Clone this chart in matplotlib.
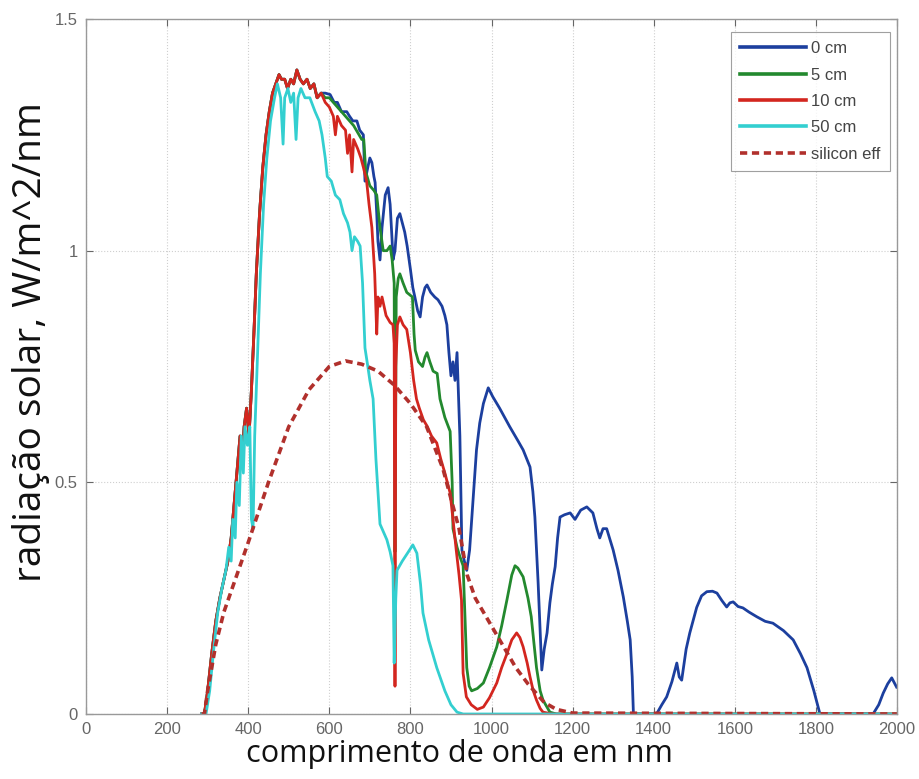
import numpy as np
import matplotlib
matplotlib.use("Agg")
import matplotlib.pyplot as plt

# ---------------- data ----------------
# shared rising part of the 0 / 5 / 10 cm spectra
common_wl = [285, 292, 300, 310, 320, 330, 340, 350, 358, 365, 372, 380, 385, 390, 396, 402, 408,
             414, 420, 428, 436, 444, 452, 460, 468, 476, 482, 490, 497, 505, 512, 520, 528,
             536, 545, 553, 562, 570, 580]
common_val = [0.0, 0.0, 0.05, 0.13, 0.2, 0.25, 0.29, 0.33, 0.38, 0.45, 0.52, 0.6, 0.55, 0.62, 0.66,
              0.6, 0.7, 0.82, 0.95, 1.08, 1.18, 1.25, 1.3, 1.34, 1.36, 1.38, 1.37, 1.37, 1.35, 1.37,
              1.36, 1.39, 1.37, 1.36, 1.37, 1.35, 1.36, 1.33, 1.34]

cm0_wl = [590, 602, 612, 620, 630, 643, 650, 658, 668, 675, 684, 688, 695, 700, 705, 710, 713, 717,
          720, 725, 730, 738, 745, 750, 755, 757, 762, 768, 774, 780, 786, 792, 800, 806, 811, 818,
          824, 830, 836, 841, 850, 860, 868, 878, 885, 890, 895, 900, 905, 910, 915, 918, 922, 925,
          927, 933, 939, 946, 955, 963, 971, 980, 992, 1003, 1020, 1045, 1065, 1078, 1095, 1102,
          1107, 1115, 1124, 1130, 1137, 1144, 1150, 1157, 1163, 1169, 1180, 1194, 1206, 1220, 1235,
          1250, 1260, 1267, 1275, 1284, 1300, 1312, 1325, 1335, 1342, 1347, 1350, 1407, 1420, 1432,
          1445, 1457, 1463, 1469, 1480, 1489, 1506, 1518, 1531, 1545, 1556, 1568, 1580, 1588, 1596,
          1608, 1620, 1635, 1654, 1675, 1694, 1720, 1744, 1762, 1778, 1795, 1810, 1941, 1955, 1966,
          1977, 1987, 1999]
cm0_val = [1.34, 1.337, 1.32, 1.32, 1.3, 1.3, 1.29, 1.28, 1.28, 1.26, 1.25, 1.15, 1.18, 1.2, 1.19,
           1.16, 1.147, 1.08, 1.02, 0.98, 1.05, 1.12, 1.136, 1.1, 1.02, 0.98, 1.0, 1.07, 1.08, 1.06,
           1.04, 1.01, 0.96, 0.92, 0.9, 0.87, 0.857, 0.9, 0.92, 0.926, 0.91, 0.9, 0.894, 0.88, 0.86,
           0.84, 0.78, 0.73, 0.76, 0.72, 0.78, 0.7, 0.6, 0.45, 0.354, 0.33, 0.31, 0.354, 0.47, 0.57,
           0.628, 0.67, 0.704, 0.685, 0.66, 0.62, 0.59, 0.57, 0.533, 0.48, 0.425, 0.283, 0.095, 0.14,
           0.175, 0.24, 0.28, 0.318, 0.38, 0.425, 0.43, 0.434, 0.42, 0.44, 0.447, 0.434, 0.4, 0.38,
           0.4, 0.4, 0.354, 0.31, 0.253, 0.2, 0.16, 0.08, 0.0, 0.0, 0.02, 0.037, 0.07, 0.11, 0.08,
           0.073, 0.14, 0.175, 0.23, 0.255, 0.264, 0.265, 0.261, 0.245, 0.231, 0.24, 0.242, 0.232,
           0.229, 0.22, 0.21, 0.2, 0.196, 0.18, 0.16, 0.13, 0.1, 0.05, 0.0, 0.0, 0.02, 0.045, 0.065,
           0.078, 0.058]

cm5_wl = [590, 600, 620, 640, 660, 680, 685, 690, 700, 710, 717, 725, 733, 742, 750, 755, 760, 762,
          765, 770, 774, 782, 791, 805, 809, 812, 820, 830, 836, 841, 848, 856, 866, 873, 885, 898,
          903, 905, 915, 922, 930, 935, 939, 945, 951, 965, 980, 995, 1013, 1025, 1038, 1050, 1058,
          1065, 1078, 1090, 1098, 1105, 1111, 1120, 1127, 1144, 1160, 2000]
cm5_val = [1.33, 1.33, 1.31, 1.29, 1.27, 1.24, 1.24, 1.17, 1.14, 1.13, 1.12, 1.05, 1.0, 1.0, 1.01,
           0.98, 0.93, 0.35, 0.9, 0.94, 0.95, 0.93, 0.91, 0.9, 0.82, 0.785, 0.76, 0.75, 0.77, 0.78,
           0.76, 0.74, 0.735, 0.68, 0.64, 0.61, 0.5, 0.4, 0.36, 0.34, 0.32, 0.2, 0.1, 0.06, 0.05,
           0.055, 0.067, 0.1, 0.145, 0.19, 0.246, 0.3, 0.32, 0.315, 0.296, 0.25, 0.21, 0.15, 0.1,
           0.05, 0.03, 0.004, 0.0, 0.0]

cm10_wl = [590, 600, 610, 615, 620, 630, 640, 645, 650, 656, 660, 670, 678, 684, 692, 698, 705, 712,
           717, 720, 725, 730, 740, 750, 757, 760, 762, 764, 768, 774, 782, 791, 800, 808, 815, 822,
           832, 842, 852, 865, 875, 885, 898, 905, 913, 920, 926, 930, 938, 950, 965, 980, 995, 1013,
           1025, 1038, 1050, 1062, 1070, 1078, 1088, 1095, 1103, 1111, 1120, 1127, 1150, 2000]
cm10_val = [1.32, 1.31, 1.29, 1.25, 1.29, 1.27, 1.26, 1.21, 1.25, 1.17, 1.24, 1.22, 1.2, 1.18, 1.15,
            1.1, 1.05, 0.95, 0.82, 0.9, 0.88, 0.9, 0.86, 0.845, 0.84, 0.8, 0.06, 0.75, 0.84, 0.857,
            0.84, 0.83, 0.78, 0.72, 0.68, 0.66, 0.635, 0.62, 0.6, 0.585, 0.55, 0.52, 0.477, 0.42,
            0.354, 0.3, 0.246, 0.088, 0.037, 0.02, 0.01, 0.015, 0.035, 0.067, 0.1, 0.13, 0.16, 0.175,
            0.165, 0.145, 0.11, 0.08, 0.05, 0.03, 0.012, 0.004, 0.0, 0.0]

cm50_wl = [285, 296, 305, 315, 325, 335, 345, 352, 358, 362, 368, 372, 378, 383, 388, 392, 398, 404,
           408, 412, 416, 422, 430, 438, 446, 455, 465, 472, 480, 486, 490, 498, 505, 512, 518, 523,
           530, 540, 552, 565, 575, 582, 590, 595, 605, 615, 626, 635, 645, 651, 656, 662, 670, 676,
           682, 688, 695, 700, 708, 715, 725, 735, 742, 750, 757, 760, 764, 767, 780, 795, 806, 816,
           825, 831, 845, 865, 885, 900, 915, 930, 2000]
cm50_val = [0.0, 0.0, 0.05, 0.14, 0.22, 0.27, 0.31, 0.36, 0.33, 0.42, 0.38, 0.5, 0.45, 0.6, 0.52,
            0.62, 0.58, 0.62, 0.42, 0.4, 0.6, 0.75, 0.95, 1.1, 1.2, 1.28, 1.33, 1.36, 1.33, 1.23,
            1.33, 1.35, 1.32, 1.34, 1.24, 1.33, 1.35, 1.33, 1.33, 1.3, 1.28, 1.25, 1.2, 1.16, 1.15,
            1.12, 1.11, 1.08, 1.06, 1.04, 1.0, 1.03, 1.02, 1.01, 0.93, 0.79, 0.75, 0.72, 0.68, 0.55,
            0.41, 0.39, 0.376, 0.35, 0.32, 0.11, 0.25, 0.31, 0.33, 0.35, 0.365, 0.347, 0.28, 0.218,
            0.16, 0.1, 0.05, 0.02, 0.004, 0.0, 0.0]

si_wl = [285, 292, 300, 320, 340, 360, 380, 400, 450, 500, 550, 600, 640, 680, 720, 760, 800, 840,
         880, 920, 940, 960, 1000, 1030, 1060, 1090, 1130, 1160, 1200, 2000]
si_val = [0.0, 0.0, 0.05, 0.15, 0.22, 0.27, 0.32, 0.37, 0.5, 0.62, 0.7, 0.75, 0.762, 0.755, 0.74,
          0.71, 0.67, 0.62, 0.53, 0.4, 0.3, 0.25, 0.19, 0.145, 0.1, 0.065, 0.025, 0.01, 0.002, 0.0]

labels = ["0 cm", "5 cm", "10 cm", "50 cm", "silicon eff"]
x_ticks = [0, 200, 400, 600, 800, 1000, 1200, 1400, 1600, 1800, 2000]
y_ticks = [0, 0.5, 1, 1.5]
y_ticklabels = ["0", "0.5", "1", "1.5"]
xlabel = "comprimento de onda em nm"
ylabel = "radiação solar, W/m^2/nm"

# ---------------- plot ----------------
fig = plt.figure(figsize=(9.2, 7.79), dpi=100)
ax = fig.add_axes([86 / 920, 1 - 714 / 779, (897 - 86) / 920, (714 - 19) / 779])

c_blue = "#1c3f9e"
c_green = "#23892e"
c_red = "#d3261f"
c_cyan = "#33cfd0"
c_si = "#b1302c"
lw = 2.0

ax.plot(np.array(common_wl + cm0_wl), np.array(common_val + cm0_val), color=c_blue, lw=lw, label=labels[0])
ax.plot(np.array(common_wl + cm5_wl), np.array(common_val + cm5_val), color=c_green, lw=lw, label=labels[1])
ax.plot(np.array(common_wl + cm10_wl), np.array(common_val + cm10_val), color=c_red, lw=lw, label=labels[2])
ax.plot(cm50_wl, cm50_val, color=c_cyan, lw=lw, label=labels[3])
ax.plot(si_wl, si_val, color=c_si, lw=2.6, ls=(0, (2.0, 1.3)), label=labels[4])

ax.set_xlim(0, 2000)
ax.set_ylim(0, 1.5)
ax.set_xticks(x_ticks)
ax.set_xticklabels([str(t) for t in x_ticks])
ax.set_yticks(y_ticks)
ax.set_yticklabels(y_ticklabels)
ax.tick_params(direction="in", length=5, width=0.8, colors="#666666", labelcolor="#666666",
               labelsize=12, top=True, right=True, pad=6)
for lab in ax.get_xticklabels() + ax.get_yticklabels():
    lab.set_fontfamily("Liberation Sans")
ax.grid(True, color="#cfcfcf", ls=":", lw=0.8)
for s in ax.spines.values():
    s.set_color("#999999")
    s.set_linewidth(1.0)

ax.set_xlabel(xlabel, fontsize=22, family="Open Sans", color="#111111")
ax.xaxis.set_label_coords((459 - 86) / 811, -0.036)
ax.set_ylabel(ylabel, fontsize=28, family="Open Sans", color="#111111")
ax.yaxis.set_label_coords((50 - 86) / 811, (714 - 342) / 695)

leg = ax.legend(loc="upper right", bbox_to_anchor=((890 - 86) / 811, 1 - (32 - 19) / 695),
                prop={"family": "Liberation Sans", "size": 12}, frameon=True, fancybox=False,
                handlelength=4.0, handletextpad=0.3, labelspacing=0.68, borderpad=0.55,
                borderaxespad=0.0)
leg.get_frame().set_edgecolor("#888888")
leg.get_frame().set_linewidth(0.8)
for line in leg.get_lines():
    line.set_linewidth(2.6)
for t in leg.get_texts():
    t.set_color("#444444")

fig.savefig("out.png", dpi=100, facecolor="white")
